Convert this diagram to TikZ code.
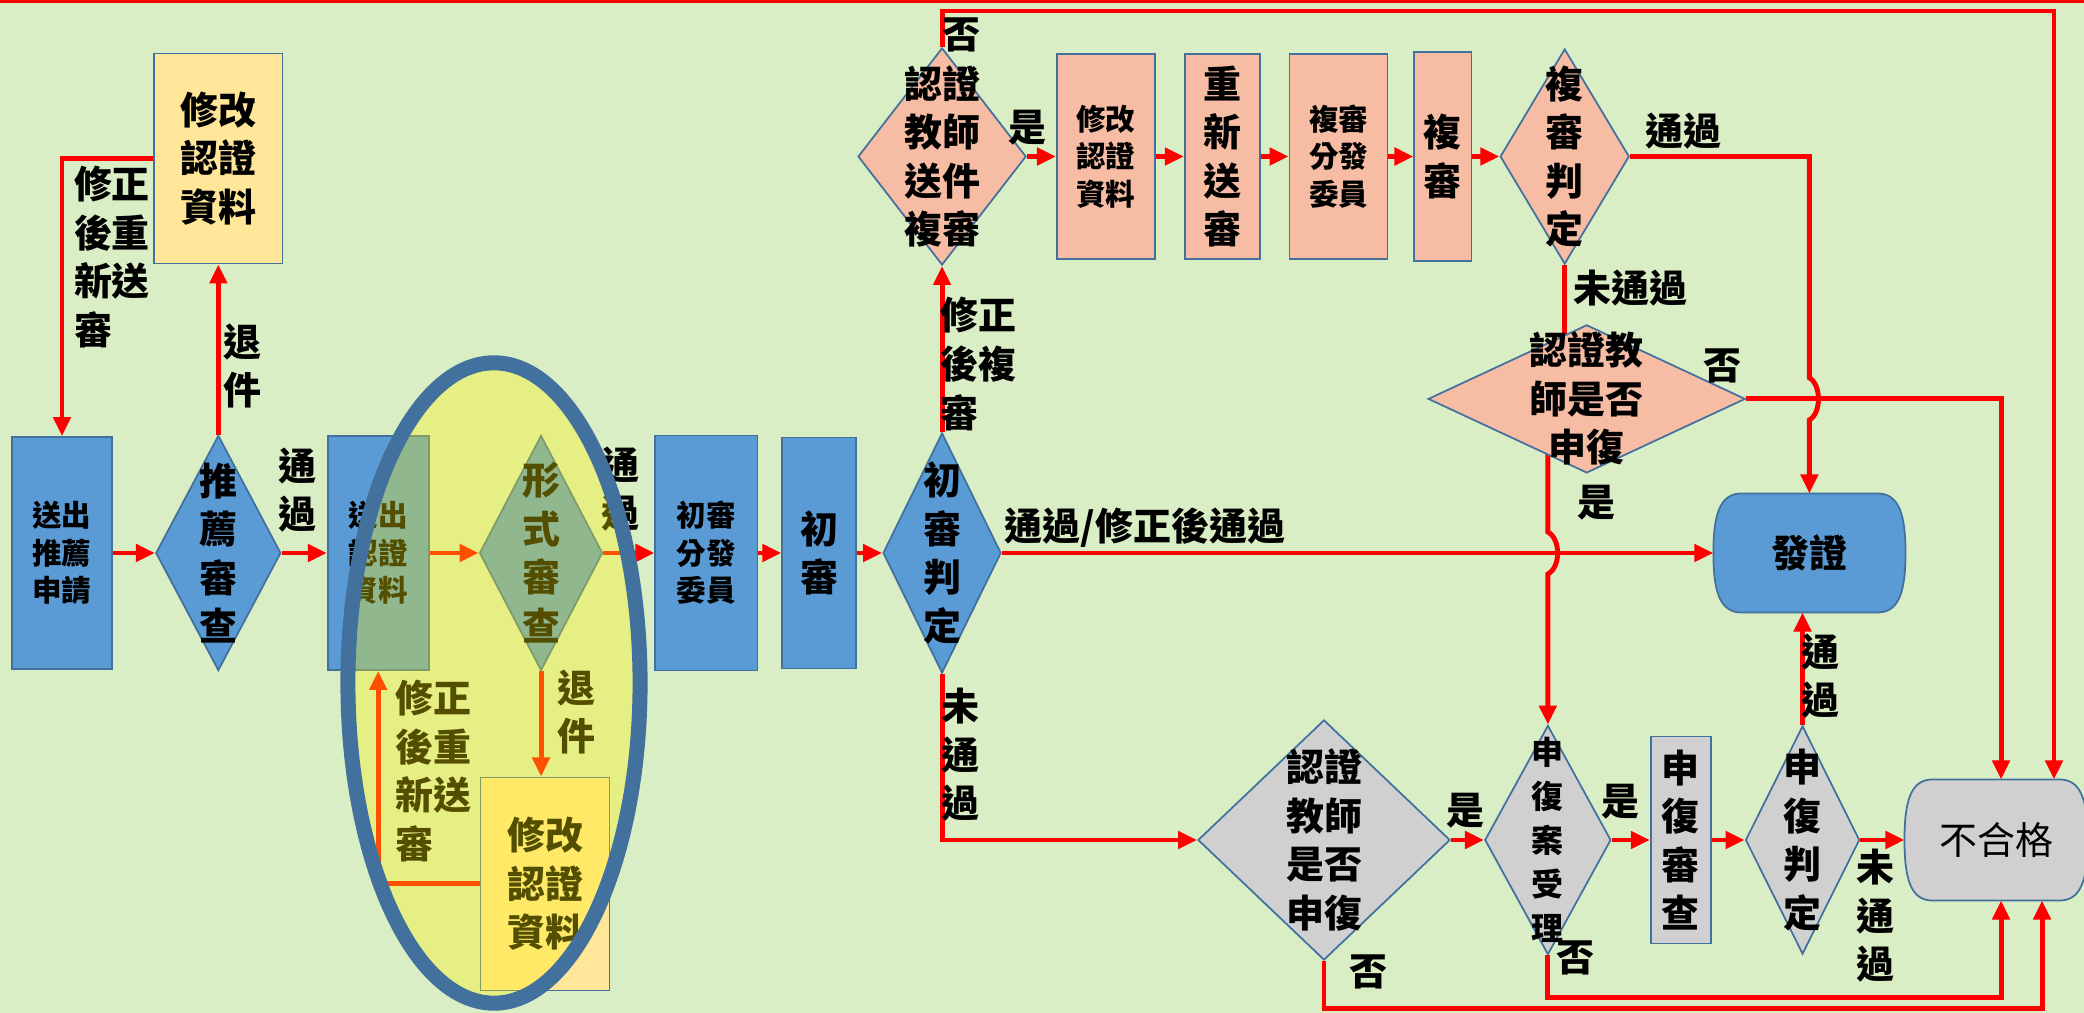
\documentclass[tikz,border=0pt]{standalone}
\usepackage{fontspec}
\setmainfont{Noto Sans CJK TC}
\usetikzlibrary{positioning,shapes.geometric,arrows.meta}

\definecolor{bgreen}{HTML}{DAEEC6}
\definecolor{bblue}{HTML}{5B9BD5}
\definecolor{bline}{HTML}{41719C}
\definecolor{byellow}{HTML}{FFE699}
\definecolor{bsalmon}{HTML}{F6BCA4}
\definecolor{bgrey}{HTML}{D0D0D0}
\definecolor{ered}{HTML}{FF0000}

\newcommand\bigtxt{\fontsize{10.8pt}{13.8pt}\selectfont\bfseries}
\newcommand\smalltxt{\fontsize{8.4pt}{10.7pt}\selectfont\bfseries}
\newcommand\midtxt{\fontsize{9.1pt}{12.5pt}\selectfont\bfseries}
\newcommand\labtxt{\fontsize{10.8pt}{13.8pt}\selectfont\bfseries}

% outline of an end box: flat top and bottom, rounded sides
\newcommand\termshape[2]{%
	\filldraw[fill=#2, draw=bline, line width=0.5pt]
	([xshift=0.28cm]#1.north west) -- ([xshift=-0.28cm]#1.north east)
	.. controls ([xshift=-0.06cm]#1.north east) and ([yshift=-0.22cm]#1.north east) .. (#1.east)
	.. controls ([yshift=0.22cm]#1.south east) and ([xshift=-0.06cm]#1.south east) .. ([xshift=-0.28cm]#1.south east)
	-- ([xshift=0.28cm]#1.south west)
	.. controls ([xshift=0.06cm]#1.south west) and ([yshift=0.22cm]#1.south west) .. (#1.west)
	.. controls ([yshift=-0.22cm]#1.north west) and ([xshift=0.06cm]#1.north west) .. cycle;}

\pgfdeclarelayer{back}
\pgfdeclarelayer{wires}
\pgfsetlayers{back,wires,main}

\begin{document}
\begin{tikzpicture}[x=0.01cm, y=-0.01cm,
	proc/.style={rectangle, draw=bline, line width=0.5pt, inner sep=1pt, align=center, font=\bigtxt},
	dec/.style={diamond, draw=bline, line width=0.5pt, inner sep=0pt},
	term/.style={rectangle, outer sep=0pt, font=\bigtxt},
	sz/.style 2 args={minimum width=#1cm, minimum height=#2cm},
	dtxt/.style={align=center, font=\bigtxt, inner sep=0pt},
	lab/.style={align=left, font=\labtxt, inner sep=0pt},
	wire/.style={draw=ered, line width=1.4pt},
	arr/.style={wire, -{Triangle[length=0.19cm, width=0.17cm]}},
]
	\useasboundingbox (0,0) rectangle (2084,1013);
	\begin{pgfonlayer}{back}
		\fill[bgreen] (0,0) rectangle (2084,1013);
		\draw[ered, line width=0.04cm] (0,1.5) -- (2084,1.5);
	\end{pgfonlayer}

	% first review row
	\node[proc, sz={1.00}{2.32}, fill=bblue, font=\smalltxt] (sq) at (62,553) {送出\\推薦\\申請};
	\node[dec, sz={1.25}{2.35}, fill=bblue, label={[dtxt]center:推\\薦\\審\\查}, right=0.42cm of sq] (tj) {};
	\node[proc, sz={1.01}{2.34}, fill=bblue, font=\smalltxt, right=0.45cm of tj] (sr) {送出\\認證\\資料};
	\node[dec, sz={1.23}{2.35}, fill=bblue, label={[dtxt]center:形\\式\\審\\查}, right=0.49cm of sr] (xs) {};
	\node[proc, sz={1.02}{2.35}, fill=bblue, font=\smalltxt, right=0.51cm of xs] (cf) {初審\\分發\\委員};
	\node[proc, sz={0.74}{2.31}, fill=bblue, right=0.23cm of cf] (cs) {初\\審};
	\node[dec, sz={1.18}{2.40}, fill=bblue, label={[dtxt]center:初\\審\\判\\定}, right=0.25cm of cs] (cp) {};
	\node[term, sz={1.92}{1.19}, right=7.11cm of cp] (fz) {發證};

	\node[proc, sz={1.28}{2.10}, fill=byellow, above=1.70cm of tj] (m1) {修改\\認證\\資料};
	\node[proc, sz={1.29}{2.13}, fill=byellow, below=1.05cm of xs, xshift=0.04cm] (m3) {修改\\認證\\資料};

	% second review row
	\node[dec, sz={1.68}{2.17}, fill=bsalmon, label={[dtxt]center:認證\\教師\\送件\\複審}, above=1.66cm of cp] (fr) {};
	\node[proc, sz={0.98}{2.05}, fill=bsalmon, font=\smalltxt, right=0.29cm of fr] (m2) {修改\\認證\\資料};
	\node[proc, sz={0.75}{2.05}, fill=bsalmon, right=0.28cm of m2] (cx) {重\\新\\送\\審};
	\node[proc, sz={0.98}{2.05}, fill=bsalmon, font=\smalltxt, right=0.28cm of cx] (ff) {複審\\分發\\委員};
	\node[proc, sz={0.57}{2.09}, fill=bsalmon, right=0.25cm of ff] (fs) {複\\審};
	\node[dec, sz={1.29}{2.15}, fill=bsalmon, label={[dtxt]center:複\\審\\判\\定}, right=0.27cm of fs] (fp) {};
	\node[dec, sz={3.17}{1.48}, fill=bsalmon, label={[dtxt]center:認證教\\師是否\\申復}, below=0.59cm of fp, xshift=0.22cm] (ap) {};

	% appeal row
	\node[dec, sz={2.52}{2.40}, fill=bgrey, label={[dtxt]center:認證\\教師\\是否\\申復}] (gd) at (1324,840) {};
	\node[dec, sz={1.26}{2.29}, fill=bgrey, label={[dtxt, font=\midtxt]center:申\\復\\案\\受\\理}, right=0.33cm of gd] (sl) {};
	\node[proc, sz={0.60}{2.07}, fill=bgrey, right=0.38cm of sl] (ss) {申\\復\\審\\查};
	\node[dec, sz={1.14}{2.28}, fill=bgrey, label={[dtxt]center:申\\復\\判\\定}, right=0.33cm of ss] (sp) {};
	\node[term, sz={1.83}{1.21}, font=\labtxt\mdseries, right=0.44cm of sp] (bh) {不合格};

	\begin{pgfonlayer}{wires}
		\termshape{fz}{bblue}
		\termshape{bh}{bgrey}
		\draw[arr] (sq.east) -- (tj.west);
		\draw[arr] (tj.east) -- (sr.west);
		\draw[arr] (sr.east) -- (xs.west);
		\draw[arr] (xs.east) -- (cf.west);
		\draw[arr] (cf.east) -- (cs.west);
		\draw[arr] (cs.east) -- (cp.west);
		\draw[arr] (cp.east) -- (fz.west);
		\draw[arr] (tj.north) -- (tj.north |- m1.south);
		\draw[arr] (m1.west) -| (sq.north);
		\draw[arr] (xs.south) -- (xs.south |- m3.north);
		\draw[arr] (m3.west) -| (sr.south);
		\draw[arr] (cp.north) -- (fr.south);
		\coordinate (tr) at (2054,11);
		\draw[arr] (fr.north) |- (tr) -- (tr |- bh.north);
		\draw[arr] (fr.east) -- (m2.west);
		\draw[arr] (m2.east) -- (cx.west);
		\draw[arr] (cx.east) -- (ff.west);
		\draw[arr] (ff.east) -- (fs.west);
		\draw[arr] (fs.east) -- (fp.west);
		% jumps over crossing lines
		\coordinate (j1) at (fz.north |- ap.east);
		\draw[arr] (fp.east) -| ([yshift=0.21cm]j1) .. controls ([xshift=0.12cm, yshift=0.14cm]j1) and ([xshift=0.12cm, yshift=-0.14cm]j1) .. ([yshift=-0.21cm]j1) -- (fz.north);
		\draw[wire] (fp.south) -- (fp.south |- ap.center);
		\draw[arr] (ap.east) -| ([xshift=0.05cm]bh.north);
		\coordinate (j2) at (sl.north |- cp.east);
		\draw[arr] (sl.north |- ap.center) -- ([yshift=0.21cm]j2) .. controls ([xshift=0.13cm, yshift=0.14cm]j2) and ([xshift=0.13cm, yshift=-0.14cm]j2) .. ([yshift=-0.21cm]j2) -- (sl.north);
		\draw[arr] (cp.south) |- (gd.west);
		\draw[arr] (gd.east) -- (sl.west);
		\draw[arr] (sl.east) -- (sl.east -| ss.west);
		\draw[arr] (ss.east) -- (ss.east -| sp.west);
		\draw[arr] (sp.east) -- (bh.west);
		\draw[arr] (sp.north) -- (sp.north |- fz.south);
		\draw[arr] (sl.south) -- ++(0,42) -| ([xshift=0.05cm]bh.south);
		\draw[arr] (gd.south) -- ++(0,48) -| ([xshift=0.46cm]bh.south);
	\end{pgfonlayer}

	% connector labels
	\node[lab] (lA) at (112,257) {修正\\後重\\新送\\審};
	\node[lab] (lB) at (242,366) {退\\件};
	\node[lab] (lC) at (297,490) {通\\過};
	\node[lab] (lD) at (620,489) {通\\過};
	\node[lab] (lE) at (576,712) {退\\件};
	\node[lab] (lF) at (433,771) {修正\\後重\\新送\\審};
	\node[lab] (lG) at (978,364) {修正\\後複\\審};
	\node[lab] (lH) at (961,35) {否};
	\node[lab] (lI) at (1027,128) {是};
	\node[lab] (lJ) at (1683,131) {通過};
	\node[lab] (lK) at (1630,288) {未通過};
	\node[lab] (lL) at (1722,366) {否};
	\node[lab] (lM) at (1596,503) {是};
	\node[lab] (lN) at (1145,528) {通過/修正後通過};
	\node[lab] (lO) at (960,755) {未\\通\\過};
	\node[lab] (lP) at (1465,811) {是};
	\node[lab] (lQ) at (1368,972) {否};
	\node[lab] (lR) at (1620,802) {是};
	\node[lab] (lS) at (1575,958) {否};
	\node[lab] (lT) at (1820,676) {通\\過};
	\node[lab] (lU) at (1875,916) {未\\通\\過};

	% highlight of the format check
	\fill[yellow, opacity=0.33] (494,683) ellipse [x radius=1.46cm, y radius=3.20cm];
	\draw[bline, line width=0.15cm] (494,683) ellipse [x radius=1.46cm, y radius=3.20cm];
\end{tikzpicture}
\end{document}
